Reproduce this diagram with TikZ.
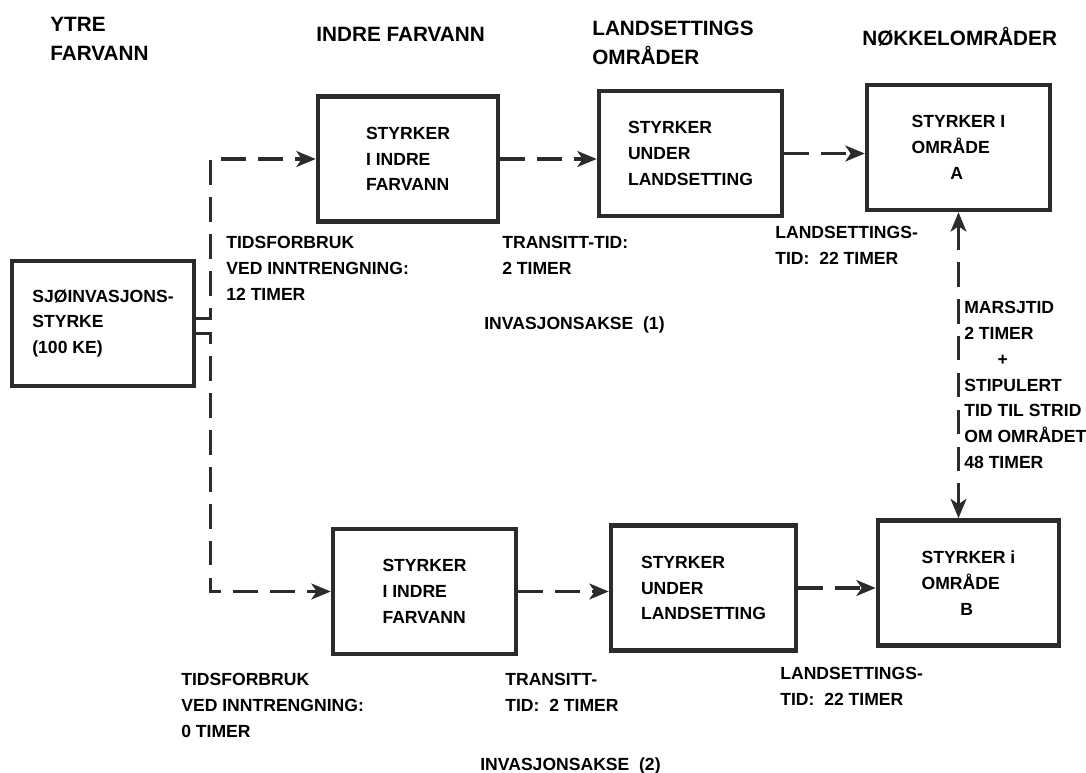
\documentclass[tikz,border=0pt]{standalone}
\usepackage{fontspec}
\setmainfont{Liberation Sans}
\usepackage{tikz}
\usetikzlibrary{arrows.meta, positioning, calc}
\definecolor{InkGray}{HTML}{2b2b2b}
\definecolor{TipGray}{HTML}{6a6a6a}

\begin{document}
\begin{tikzpicture}[
  x=0.02cm, y=-0.02cm,
  box/.style={draw=InkGray, line width=2.6pt, minimum width=#1, minimum height=2.5cm, align=left, font=\fontsize{10}{14.7}\selectfont\bfseries},
  lbl/.style={anchor=north west, inner sep=0pt, align=left, font=\fontsize{10}{14.7}\selectfont\bfseries},
  hdr/.style={anchor=north west, inner sep=0pt, align=left, font=\fontsize{11.8}{16.4}\selectfont\bfseries},
  gtip/.tip={Stealth[length=11pt, width=9pt, inset=3pt, fill=TipGray]},
  arr/.style={-{gtip}, draw=InkGray, line width=1.9pt, dash pattern=on 14pt off 7pt}
]
\useasboundingbox (0,0) rectangle (1086,773);
% column headings
\node[hdr] (hytre) at (50,17) {YTRE\\FARVANN};
\node[hdr] (hindre) at (316,27) {INDRE FARVANN};
\node[hdr] (hland) at (592,21) {LANDSETTINGS\\OMRÅDER};
\node[hdr] (hnokkel) at (862,27) {NØKKELOMRÅDER};
% boxes
\node[box=3.64cm] (sjo) at (103,323.5) {SJØINVASJONS-\\STYRKE\\(100 KE)};
\node[box=3.6cm] (indre1) at (408,159) {STYRKER\\I INDRE\\FARVANN};
\node[box=3.66cm] (under1) at (690.5,153.5) {STYRKER\\UNDER\\LANDSETTING};
\node[box=3.66cm] (omrA) at (958.5,147.5) {STYRKER I\\OMRÅDE\\\hspace{2.2em}A};
\node[box=3.66cm] (indre2) at (424.5,591.5) {STYRKER\\I INDRE\\FARVANN};
\node[box=3.7cm] (under2) at (703.5,588) {STYRKER\\UNDER\\LANDSETTING};
\node[box=3.62cm] (omrB) at (968.5,583) {STYRKER i\\OMRÅDE\\\hspace{2.2em}B};
% axis (1)
\draw[arr] ([yshift=1mm]sjo.east) -- ++(14,0) |- (indre1.west);
\draw[arr] (indre1.east) -- (indre1.east -| under1.west);
\draw[arr] (under1.east) -- (under1.east -| omrA.west);
% axis (2)
\draw[arr] ([yshift=-2mm]sjo.east) -- ++(14,0) |- (indre2.west);
\draw[arr] (indre2.east) -- (indre2.east -| under2.west);
\draw[arr] (under2.east) -- (under2.east -| omrB.west);
% between the key areas
\draw[arr, {gtip}-{gtip}] (omrA.south) -- (omrA.south |- omrB.north);
% times
\node[lbl] (inn1) at (226,236) {TIDSFORBRUK\\VED INNTRENGNING:\\12 TIMER};
\node[lbl] (trans1) at (502,236) {TRANSITT-TID:\\2 TIMER};
\node[lbl] (land1) at (775,226) {LANDSETTINGS-\\TID:\ \ 22 TIMER};
\node[lbl] (akse1) at (484,316) {INVASJONSAKSE\ \ (1)};
\node[lbl] (marsj) at (964,301) {MARSJTID\\2 TIMER\\\hspace{1.9em}+\\STIPULERT\\TID TIL STRID\\OM OMRÅDET\\48 TIMER};
\node[lbl] (inn2) at (181,673) {TIDSFORBRUK\\VED INNTRENGNING:\\0 TIMER};
\node[lbl] (trans2) at (505,673) {TRANSITT-\\TID:\ \ 2 TIMER};
\node[lbl] (land2) at (780,667) {LANDSETTINGS-\\TID:\ \ 22 TIMER};
\node[lbl] (akse2) at (480,757) {INVASJONSAKSE\ \ (2)};
\end{tikzpicture}
\end{document}
